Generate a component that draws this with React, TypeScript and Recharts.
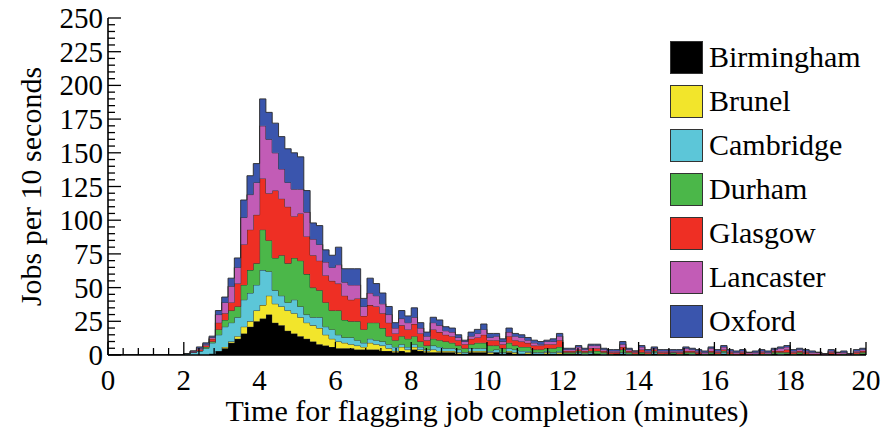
import React from 'react';
import { AreaChart, Area, XAxis, YAxis, Legend } from 'recharts';

// Grid sites, stacked bottom to top
const SITES = ['Birmingham', 'Brunel', 'Cambridge', 'Durham', 'Glasgow', 'Lancaster', 'Oxford'];
const COLORS = ['#000000', '#f2e52b', '#5cc6d8', '#4bb749', '#ee2f24', '#c25cb6', '#3a55ad'];

// Jobs completed per 10-second bin, 0–20 minutes (120 bins)
const birmingham = [
  0, 0, 0, 0, 0, 0, 0, 0, 0, 0,
  0, 0, 0, 0, 0, 0, 1, 3, 5, 9,
  12, 16, 21, 25, 27, 30, 24, 22, 18, 16,
  14, 12, 10, 8, 7, 6, 5, 5, 5, 4,
  4, 4, 4, 3, 3, 2, 3, 2, 4, 3,
  2, 2, 2, 2, 2, 1, 1, 2, 2, 2,
  1, 2, 1, 2, 1, 1, 1, 1, 1, 1,
  1, 1, 1, 1, 1, 0, 1, 1, 0, 0,
  1, 1, 0, 0, 1, 0, 1, 0, 0, 1,
  0, 1, 0, 1, 0, 1, 0, 1, 0, 0,
  1, 0, 0, 0, 0, 1, 0, 1, 0, 1,
  0, 0, 0, 0, 1, 0, 0, 0, 0, 1,
];
const brunel = [
  0, 0, 0, 0, 0, 0, 0, 0, 0, 0,
  0, 0, 0, 0, 0, 0, 0, 0, 1, 1,
  2, 5, 4, 8, 10, 14, 14, 14, 15, 15,
  14, 12, 12, 12, 8, 6, 5, 4, 3, 3,
  2, 5, 4, 4, 2, 1, 3, 2, 2, 1,
  1, 2, 1, 1, 1, 1, 0, 1, 1, 1,
  1, 0, 0, 1, 1, 0, 1, 0, 0, 1,
  0, 1, 0, 0, 0, 0, 0, 0, 0, 0,
  0, 0, 0, 0, 0, 0, 0, 0, 0, 0,
  0, 0, 0, 0, 0, 0, 0, 0, 0, 0,
  0, 0, 0, 0, 0, 0, 0, 0, 0, 0,
  0, 0, 0, 0, 0, 0, 0, 0, 0, 0,
];
const cambridge = [
  0, 0, 0, 0, 0, 0, 0, 0, 0, 0,
  0, 0, 1, 2, 3, 5, 8, 12, 15, 14,
  14, 20, 21, 19, 26, 18, 10, 8, 6, 10,
  8, 6, 6, 8, 6, 7, 5, 4, 5, 4,
  3, 3, 3, 3, 3, 3, 2, 2, 2, 2,
  1, 3, 3, 2, 2, 2, 1, 2, 2, 2,
  1, 2, 1, 2, 2, 2, 1, 1, 1, 1,
  1, 1, 0, 0, 1, 1, 1, 0, 1, 0,
  0, 1, 1, 0, 0, 0, 1, 0, 1, 0,
  0, 0, 1, 0, 0, 0, 0, 1, 0, 0,
  0, 0, 1, 0, 0, 0, 1, 0, 0, 0,
  0, 0, 0, 0, 0, 0, 0, 0, 0, 0,
];
const durham = [
  0, 0, 0, 0, 0, 0, 0, 0, 0, 0,
  0, 0, 0, 0, 0, 1, 1, 4, 5, 9,
  8, 11, 17, 16, 30, 23, 24, 30, 29, 31,
  34, 30, 22, 20, 18, 14, 18, 13, 12, 14,
  10, 12, 13, 10, 6, 5, 6, 6, 6, 4,
  3, 5, 5, 5, 4, 3, 3, 3, 4, 4,
  4, 3, 3, 4, 3, 3, 3, 2, 2, 2,
  3, 3, 1, 1, 1, 1, 1, 2, 1, 1,
  0, 2, 1, 1, 1, 1, 1, 1, 0, 1,
  1, 1, 1, 0, 1, 1, 1, 1, 1, 0,
  0, 0, 0, 1, 1, 1, 1, 1, 1, 1,
  1, 0, 0, 0, 0, 0, 1, 0, 1, 1,
];
const glasgow = [
  0, 0, 0, 0, 0, 0, 0, 0, 0, 0,
  0, 0, 0, 0, 1, 1, 2, 5, 5, 6,
  17, 30, 30, 36, 38, 35, 50, 42, 42, 31,
  35, 28, 24, 22, 20, 22, 20, 18, 16, 17,
  10, 13, 12, 11, 10, 5, 8, 7, 9, 6,
  4, 7, 6, 5, 5, 4, 3, 4, 4, 6,
  4, 4, 3, 5, 4, 4, 3, 3, 3, 3,
  3, 5, 1, 1, 1, 1, 2, 2, 1, 1,
  1, 2, 1, 1, 2, 1, 1, 1, 1, 0,
  1, 1, 1, 1, 0, 1, 1, 1, 1, 1,
  1, 1, 0, 1, 0, 1, 1, 2, 1, 1,
  1, 1, 1, 0, 1, 1, 0, 0, 1, 1,
];
const lancaster = [
  0, 0, 0, 0, 0, 0, 0, 0, 0, 0,
  0, 0, 0, 1, 1, 1, 1, 6, 8, 12,
  12, 20, 26, 24, 39, 40, 28, 22, 18, 20,
  18, 18, 12, 12, 10, 10, 14, 10, 11, 10,
  7, 9, 8, 7, 6, 4, 5, 5, 5, 4,
  3, 5, 5, 3, 3, 2, 2, 2, 3, 4,
  2, 3, 2, 3, 3, 3, 2, 2, 1, 2,
  2, 3, 1, 1, 2, 1, 2, 2, 1, 1,
  1, 2, 1, 1, 2, 1, 1, 1, 1, 1,
  1, 2, 1, 1, 1, 2, 1, 2, 1, 1,
  1, 1, 1, 1, 1, 1, 2, 2, 1, 1,
  1, 1, 1, 1, 1, 1, 1, 1, 1, 1,
];
const oxford = [
  0, 0, 0, 0, 0, 0, 0, 0, 0, 0,
  0, 0, 0, 0, 1, 1, 1, 3, 4, 6,
  7, 13, 14, 14, 20, 20, 22, 24, 25, 27,
  24, 16, 12, 14, 9, 9, 13, 10, 12, 12,
  6, 11, 9, 8, 6, 4, 6, 5, 7, 4,
  3, 4, 4, 3, 3, 2, 1, 3, 3, 4,
  3, 2, 2, 3, 2, 2, 2, 2, 2, 1,
  2, 2, 1, 1, 1, 1, 1, 1, 1, 1,
  1, 2, 1, 0, 1, 1, 1, 1, 1, 1,
  1, 1, 1, 1, 1, 1, 1, 1, 1, 1,
  1, 0, 1, 1, 1, 1, 1, 1, 1, 1,
  1, 1, 0, 0, 1, 0, 1, 0, 1, 1,
];

const SERIES = [birmingham, brunel, cambridge, durham, glasgow, lancaster, oxford];

// Axis tick values (minutes / jobs)
const X_MAJOR = [0, 2, 4, 6, 8, 10, 12, 14, 16, 18, 20];
const Y_MAJOR = [0, 25, 50, 75, 100, 125, 150, 175, 200, 225, 250];
const X_MINOR_STEP = 0.4;
const Y_MINOR_STEP = 5;
const BIN_MINUTES = 10 / 60;

const X_TICKS = Array.from({ length: Math.round(20 / X_MINOR_STEP) + 1 }, (_, k) => Math.round(k * X_MINOR_STEP * 10) / 10);
const Y_TICKS = Array.from({ length: Math.round(250 / Y_MINOR_STEP) + 1 }, (_, k) => k * Y_MINOR_STEP);

// One row per bin edge; the last row closes the final bin at 20 min
const data: Record<string, number>[] = birmingham.map((_, i) => {
  const row: Record<string, number> = { t: i * BIN_MINUTES };
  SITES.forEach((s, k) => { row[s] = SERIES[k][i]; });
  return row;
});
data.push({ ...data[data.length - 1], t: birmingham.length * BIN_MINUTES });

const FONT = 'Liberation Serif';
const TICK_W = 1.3;

const BottomTick = ({ x, y, payload }: any) => {
  const major = X_MAJOR.includes(payload.value);
  return (
    <g>
      <line x1={x} x2={x} y1={y} y2={y - (major ? 13 : 7)} stroke="#000" strokeWidth={TICK_W} />
      {major && (
        <text x={x} y={y + 35} textAnchor="middle" fontSize={29} fontFamily={FONT} fill="#000">
          {payload.value}
        </text>
      )}
    </g>
  );
};

const TopTick = ({ x, y, payload }: any) => {
  const major = X_MAJOR.includes(payload.value);
  return <line x1={x} x2={x} y1={y} y2={y + (major ? 13 : 7)} stroke="#000" strokeWidth={TICK_W} />;
};

const LeftTick = ({ x, y, payload }: any) => {
  const major = Y_MAJOR.includes(payload.value);
  return (
    <g>
      <line x1={x} x2={x + (major ? 13 : 7)} y1={y} y2={y} stroke="#000" strokeWidth={TICK_W} />
      {major && (
        <text x={x - 5} y={y + 10} textAnchor="end" fontSize={29} fontFamily={FONT} fill="#000">
          {payload.value}
        </text>
      )}
    </g>
  );
};

const RightTick = ({ x, y, payload }: any) => {
  const major = Y_MAJOR.includes(payload.value);
  return <line x1={x} x2={x - (major ? 13 : 7)} y1={y} y2={y} stroke="#000" strokeWidth={TICK_W} />;
};

const LegendBox = ({ payload }: any) => {
  const items = [...(payload || [])].sort(
    (a: any, b: any) => SITES.indexOf(a.value) - SITES.indexOf(b.value)
  );
  return (
    <div style={{ fontFamily: FONT }}>
      {items.map((it: any) => {
        const idx = SITES.indexOf(it.value);
        return (
          <div key={it.value} style={{ display: 'flex', alignItems: 'center', height: 44 }}>
            <div
              style={{
                width: 33,
                height: 33,
                background: COLORS[idx],
                boxSizing: 'border-box',
                border: '1px solid #333',
                marginRight: 6,
              }}
            />
            <span style={{ fontSize: 30, lineHeight: 1, color: '#000' }}>{it.value}</span>
          </div>
        );
      })}
    </div>
  );
};

export default function App() {
  return (
    <div style={{ width: 891, height: 431, margin: '-8px 0 0 -8px', fontFamily: FONT }}>
      <AreaChart width={891} height={431} data={data} margin={{ top: 18, right: 25, bottom: 0, left: 0 }}>
        <XAxis
          dataKey="t"
          type="number"
          domain={[0, 20]}
          ticks={X_TICKS}
          interval={0}
          height={76}
          tickSize={0}
          tickMargin={0}
          tickLine={false}
          tick={<BottomTick />}
          axisLine={{ stroke: '#000', strokeWidth: 1.6 }}
          label={{
            value: 'Time for flagging job completion (minutes)',
            position: 'insideBottom',
            offset: 10,
            fontSize: 30,
            fill: '#000',
            fontFamily: FONT,
          }}
        />
        <XAxis
          xAxisId="top"
          orientation="top"
          type="number"
          domain={[0, 20]}
          ticks={X_TICKS}
          interval={0}
          height={0}
          tickSize={0}
          tickMargin={0}
          tickLine={false}
          tick={<TopTick />}
          axisLine={{ stroke: '#000', strokeWidth: 1.6 }}
        />
        <YAxis
          type="number"
          domain={[0, 250]}
          ticks={Y_TICKS}
          interval={0}
          width={108}
          tickSize={0}
          tickMargin={0}
          tickLine={false}
          tick={<LeftTick />}
          axisLine={{ stroke: '#000', strokeWidth: 1.6 }}
          allowDataOverflow
          label={{
            value: 'Jobs per 10 seconds',
            angle: -90,
            position: 'insideLeft',
            offset: 30,
            fontSize: 30,
            fill: '#000',
            fontFamily: FONT,
            style: { textAnchor: 'middle' },
          }}
        />
        <YAxis
          yAxisId="right"
          orientation="right"
          type="number"
          domain={[0, 250]}
          ticks={Y_TICKS}
          interval={0}
          width={0}
          tickSize={0}
          tickMargin={0}
          tickLine={false}
          tick={<RightTick />}
          axisLine={{ stroke: '#000', strokeWidth: 1.6 }}
          allowDataOverflow
        />
        <Legend
          layout="horizontal"
          verticalAlign="middle"
          align="center"
          wrapperStyle={{ left: 670, top: 35, width: 215, height: 310 }}
          content={<LegendBox />}
        />
        {SITES.map((s, k) => (
          <Area
            key={s}
            type="stepAfter"
            dataKey={s}
            name={s}
            stackId="sites"
            fill={COLORS[k]}
            fillOpacity={1}
            stroke="#2a2a2a"
            strokeWidth={0.9}
            isAnimationActive={false}
            dot={false}
            activeDot={false}
          />
        ))}
      </AreaChart>
    </div>
  );
}
